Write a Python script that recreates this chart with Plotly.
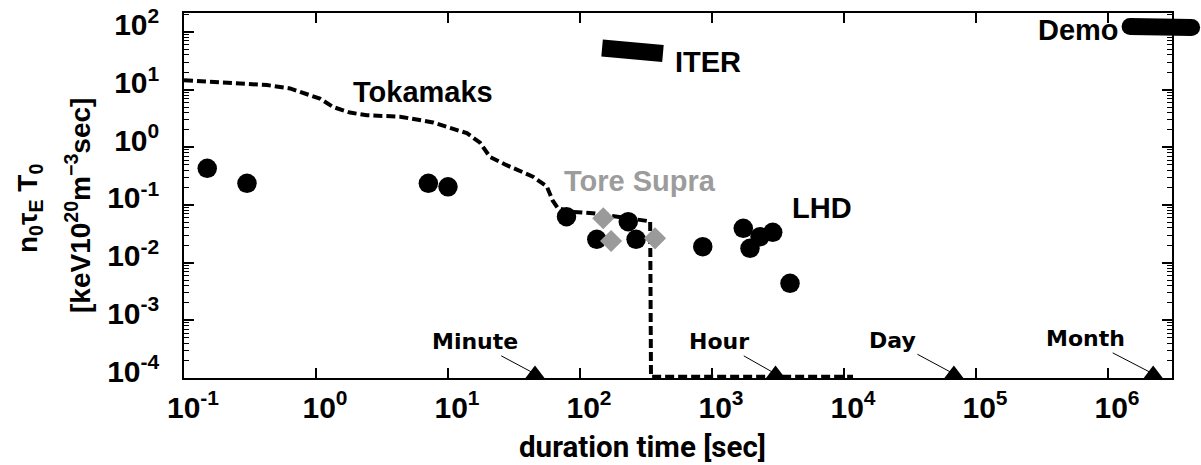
import math
import plotly.graph_objects as go

# ---------------- data ----------------
xtick_vals = [1e-1, 1e0, 1e1, 1e2, 1e3, 1e4, 1e5, 1e6]
xtick_text = ["10<sup>-1</sup>", "10<sup>0</sup>", "10<sup>1</sup>", "10<sup>2</sup>",
              "10<sup>3</sup>", "10<sup>4</sup>", "10<sup>5</sup>", "10<sup>6</sup>"]
ytick_vals = [1e-4, 1e-3, 1e-2, 1e-1, 1e0, 1e1, 1e2]
ytick_text = ["10<sup>-4</sup>", "10<sup>-3</sup>", "10<sup>-2</sup>", "10<sup>-1</sup>",
              "10<sup>0</sup>", "10<sup>1</sup>", "10<sup>2</sup>"]

# Tokamaks envelope (dashed)
tok_x = [0.1, 0.235, 0.426, 0.635, 1.07, 1.35, 1.81, 2.43, 4.33, 7.7, 13.9, 17.5,
         20.8, 27.8, 44, 56, 62, 68, 88, 125, 178, 285, 340, 345, 11700]
tok_y = [14.6, 13.3, 12.0, 10.5, 7.0, 5.0, 4.0, 3.6, 3.4, 2.7, 1.76, 1.2,
         0.68, 0.49, 0.31, 0.21, 0.12, 0.088, 0.076, 0.072, 0.064, 0.055, 0.052, 1.05e-4, 1.05e-4]

# experimental points (black circles)
exp_x = [0.15, 0.30, 7.1, 10.0, 79, 134, 232, 266, 851, 1726, 1940, 2311, 2884, 3899]
exp_y = [0.432, 0.238, 0.238, 0.207, 0.0627, 0.0254, 0.0513, 0.0254, 0.0189,
         0.0394, 0.0177, 0.0282, 0.0336, 0.00438]

# Tore Supra (grey diamonds)
ts_x = [150, 172, 370]
ts_y = [0.0588, 0.0238, 0.0264]

# ITER and Demo target bands
iter_x = [147, 425]
iter_y = [52.7, 42.4]
demo_x = [1.47e6, 4.3e6]
demo_y = [125, 120]

# time markers
mark_x = [45.6, 3030, 68000, 2.2e6]
mark_y = [1.18e-4, 1.18e-4, 1.18e-4, 1.18e-4]
mark_labels = ["Minute", "Hour", "Day", "Month"]

label_texts = ["Tokamaks", "ITER", "LHD", "Tore Supra", "Demo"]

# ---------------- geometry ----------------
W, H = 1201, 465
L, T, R_MAIN, B = 184, 13, 1172, 378
DEC_X = 132.0
DEC_Y = 57.67


def px(xp):
    return (xp - L) / (W - L)


def py(yp):
    return (B - yp) / (B - T)


FONT = "Liberation Sans, Arial, sans-serif"

fig = go.Figure()

fig.add_trace(go.Scatter(x=tok_x, y=tok_y, mode="lines",
                         line=dict(color="black", width=4, dash="9px,4px"),
                         hoverinfo="skip"))
fig.add_trace(go.Scatter(x=iter_x, y=iter_y, mode="lines",
                         line=dict(color="black", width=17), hoverinfo="skip"))
fig.add_trace(go.Scatter(x=exp_x, y=exp_y, mode="markers",
                         marker=dict(symbol="circle", size=19.5, color="black")))
fig.add_trace(go.Scatter(x=ts_x, y=ts_y, mode="markers",
                         marker=dict(symbol="diamond", size=17, color="#9a9a9a")))
fig.add_trace(go.Scatter(x=mark_x, y=mark_y, mode="markers", cliponaxis=False,
                         marker=dict(symbol="triangle-up", size=16.5, color="black")))
fig.add_trace(go.Scatter(x=demo_x, y=demo_y, mode="lines+markers", xaxis="x2", yaxis="y",
                         cliponaxis=False,
                         line=dict(color="black", width=17),
                         marker=dict(symbol="circle", size=17, color="black")))

axis_common = dict(type="log", showline=True, linecolor="black", linewidth=1.5,
                   mirror="ticks", ticks="inside", ticklen=10, tickwidth=1.5,
                   tickcolor="black", showgrid=False, zeroline=False,
                   tickfont=dict(family=FONT, size=30, color="black", weight="bold"))

fig.update_layout(
    width=W, height=H,
    margin=dict(l=L, r=0, t=T, b=H - B, pad=0),
    plot_bgcolor="rgba(0,0,0,0)", paper_bgcolor="white",
    showlegend=False,
    xaxis=dict(axis_common, domain=[0, (R_MAIN - L) / (W - L)],
               range=[-1, -1 + (R_MAIN - L) / DEC_X],
               tickmode="array", tickvals=xtick_vals, ticktext=xtick_text,
               ticklabelstandoff=2, ticklabelshift=9),
    xaxis2=dict(type="log", domain=[0, 1], anchor="y", visible=False,
                range=[-1, -1 + (W - L) / DEC_X], showgrid=False, zeroline=False),
    yaxis=dict(axis_common, range=[-4, -4 + (B - T) / DEC_Y],
               tickmode="array", tickvals=ytick_vals, ticktext=ytick_text,
               ticklabelstandoff=17, ticklabelshift=-7, layer="below traces",
               minor=dict(ticks="inside", ticklen=5, tickwidth=1.2, tickcolor="black",
                          dtick="D1", showgrid=False)),
)

ann = []
label_pos = [(422.5, 92), (707.5, 62), (822, 208), (639.5, 181), (1078, 30)]
label_col = ["black", "black", "black", "#9c9c9c", "black"]
for txt, (xp, yp), col in zip(label_texts, label_pos, label_col):
    ann.append(dict(text=txt, x=px(xp), y=py(yp), xref="paper", yref="paper",
                    xanchor="center", yanchor="middle", showarrow=False,
                    font=dict(family=FONT, size=29, color=col, weight="bold")))

# y-axis title (two lines)
ann.append(dict(text="n<sub>0</sub>τ<sub>E</sub> T<sub>0</sub>", x=px(29), y=py(209),
                xref="paper", yref="paper", xanchor="center", yanchor="middle",
                textangle=-90, showarrow=False,
                font=dict(family=FONT, size=28, color="black", weight="bold")))
ann.append(dict(text="[keV10<sup>20</sup>m<sup>−3</sup>sec]", x=px(78), y=py(206),
                xref="paper", yref="paper", xanchor="center", yanchor="middle",
                textangle=-90, showarrow=False,
                font=dict(family=FONT, size=28, color="black", weight="bold")))
# x-axis title
ann.append(dict(text="duration time [sec]", x=px(642.5), y=py(447),
                xref="paper", yref="paper", xanchor="center", yanchor="middle",
                showarrow=False,
                font=dict(family="Roboto, sans-serif", size=29.5, color="black", weight="bold")))

# time markers with arrows
offsets = [(-60, -32), (-56.5, -32), (-61.5, -33), (-67.5, -35)]
for lab, mx, my, (oax, oay) in zip(mark_labels, mark_x, mark_y, offsets):
    ann.append(dict(text=lab, x=math.log10(mx), y=math.log10(my), xref="x", yref="y",
                    ax=oax, ay=oay, axref="pixel", ayref="pixel",
                    showarrow=True, arrowhead=0, arrowwidth=1, arrowcolor="black",
                    standoff=0,
                    font=dict(family="DejaVu Sans, sans-serif", size=22, color="black",
                              weight="bold")))

fig.update_layout(annotations=ann)

fig.write_html("out.html", config={"displayModeBar": False},
               post_script="document.body.style.margin='0';")
